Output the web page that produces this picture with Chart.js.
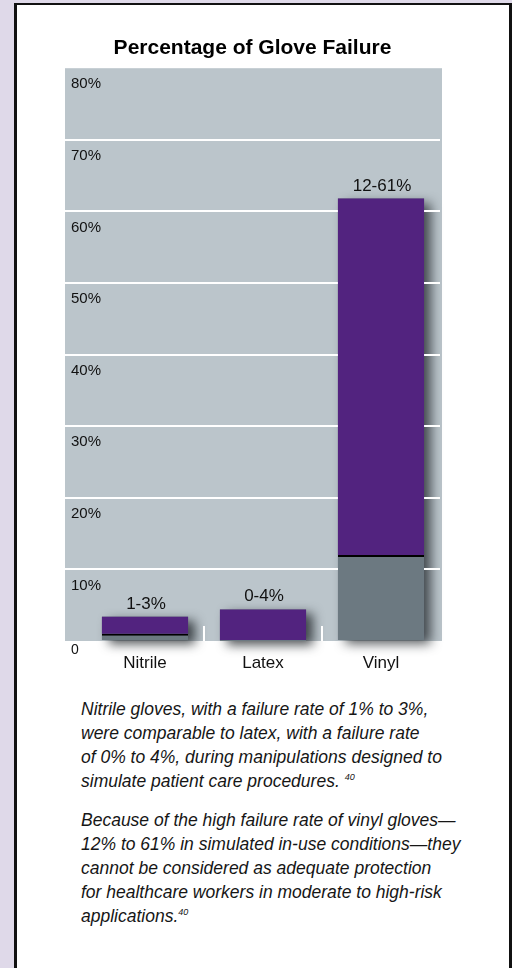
<!DOCTYPE html>
<html>
<head>
<meta charset="utf-8">
<script src="https://cdn.jsdelivr.net/npm/chart.js@4.4.1/dist/chart.umd.min.js"></script>
<style>
  html, body { margin: 0; padding: 0; }
  body { width: 512px; height: 968px; background: #dfd9e9; position: relative; overflow: hidden; }
  #frame { position: absolute; left: 14px; top: 3px; width: 492px; height: 1000px; background: #fff;
           border-top: 2px solid #111; border-left: 3px solid #111; border-right: 3px solid #111; }
  #chart { position: absolute; left: 65px; top: 20px; }
  .note { position: absolute; left: 81px; margin: 0; white-space: nowrap;
          font-family: "Liberation Sans", Arial, sans-serif; font-style: italic;
          font-size: 17.5px; line-height: 24px; color: #161616; }
  .note sup { font-size: 9px; vertical-align: 0; position: relative; top: -7px; }
  #n1 { top: 697px; }
  #n2 { top: 808px; }
</style>
</head>
<body>
<div id="frame"></div>
<canvas id="chart" width="385" height="651"></canvas>
<p class="note" id="n1">Nitrile gloves, with a failure rate of 1% to 3%,<br>were comparable to latex, with a failure rate<br>of 0% to 4%, during manipulations designed to<br>simulate patient care procedures. <sup>40</sup></p>
<p class="note" id="n2">Because of the high failure rate of vinyl gloves—<br>12% to 61% in simulated in-use conditions—they<br>cannot be considered as adequate protection<br>for healthcare workers in moderate to high-risk<br>applications.<sup>40</sup></p>
<script>
// ---- data ----
const categories = ['Nitrile', 'Latex', 'Vinyl'];
const lowValues = [1, 0, 12];            // lower bound of failure range (gray part)
const rangeValues = [2.4, 4.4, 49.8];    // span above lower bound (purple part)
const rangeLabels = ['1-3%', '0-4%', '12-61%'];
const yTickLabels = ['0', '10%', '20%', '30%', '40%', '50%', '60%', '70%', '80%'];
const chartTitle = 'Percentage of Glove Failure';

const FONT = '"Liberation Sans", Arial, sans-serif';
const PLOT_BG = '#bbc5cb';
const GRAY = '#6c7981';
const PURPLE = '#52237f';

const backdrop = {
  id: 'backdrop',
  beforeDraw(chart) {
    const { ctx, chartArea: a } = chart;
    const yAxis = chart.scales.y;
    ctx.save();
    ctx.fillStyle = PLOT_BG;
    ctx.fillRect(yAxis.left, a.top, a.right - yAxis.left + 2, a.bottom - a.top);
    const m0 = chart.getDatasetMeta(0), m1 = chart.getDatasetMeta(1);
    ctx.shadowColor = 'rgba(20,25,30,0.75)';
    ctx.shadowBlur = 11;
    ctx.shadowOffsetX = 7;
    ctx.shadowOffsetY = 4;
    ctx.fillStyle = GRAY;
    m1.data.forEach((el, i) => {
      const base = m0.data[i].base;
      ctx.fillRect(el.x - el.width / 2, el.y, el.width, base - el.y);
    });
    ctx.restore();
  }
};

const rangeText = {
  id: 'rangeText',
  afterDatasetsDraw(chart) {
    const { ctx } = chart;
    const m1 = chart.getDatasetMeta(1);
    ctx.save();
    ctx.font = '17px ' + FONT;
    ctx.fillStyle = '#111';
    ctx.textAlign = 'center';
    ctx.textBaseline = 'alphabetic';
    m1.data.forEach((el, i) => {
      ctx.fillText(rangeLabels[i], el.x + 1, el.y - 8);
    });
    ctx.restore();
  }
};

new Chart(document.getElementById('chart'), {
  type: 'bar',
  data: {
    labels: categories,
    datasets: [
      { label: 'Lower bound', data: lowValues, backgroundColor: GRAY,
        borderColor: '#000', borderWidth: { top: 2, right: 0, bottom: 0, left: 0 } },
      { label: 'Range', data: rangeValues, backgroundColor: PURPLE, borderWidth: 0 }
    ]
  },
  options: {
    responsive: false,
    animation: false,
    layout: { padding: { left: 0, right: 10, top: 0, bottom: 0 } },
    barPercentage: 0.73,
    categoryPercentage: 1,
    plugins: {
      legend: { display: false },
      tooltip: { enabled: false },
      title: { display: true, text: chartTitle, color: '#000',
               font: { family: FONT, size: 21, weight: 'bold', lineHeight: 1.2 },
               padding: { top: 16, bottom: 7 } }
    },
    scales: {
      x: {
        stacked: true,
        border: { display: false },
        grid: { drawOnChartArea: false, drawTicks: true, tickLength: -15, lineWidth: 2,
                color: (c) => (c.index === 1 || c.index === 2) ? '#ffffff' : 'rgba(0,0,0,0)' },
        ticks: { color: '#111', font: { family: FONT, size: 17 }, padding: 27 },
        afterFit(s) { s.height = 30; }
      },
      y: {
        stacked: true,
        min: 0, max: 80,
        border: { display: false },
        grid: { lineWidth: 2, tickLength: 21, drawTicks: true,
                color: (c) => (c.tick && c.tick.value > 0 && c.tick.value < 80) ? '#ffffff' : 'rgba(0,0,0,0)' },
        ticks: {
          stepSize: 10, mirror: true, crossAlign: 'near', padding: -15, labelOffset: 16,
          color: '#111',
          font: (c) => (c.tick && c.tick.value === 0) ? { family: FONT, size: 14, lineHeight: 1 } : { family: FONT, size: 15 },
          callback: (v, i) => (v === 0 ? [yTickLabels[i], ''] : yTickLabels[i])
        },
        afterFit(s) { s.width = 21; }
      }
    }
  },
  plugins: [backdrop, rangeText]
});
</script>
</body>
</html>
